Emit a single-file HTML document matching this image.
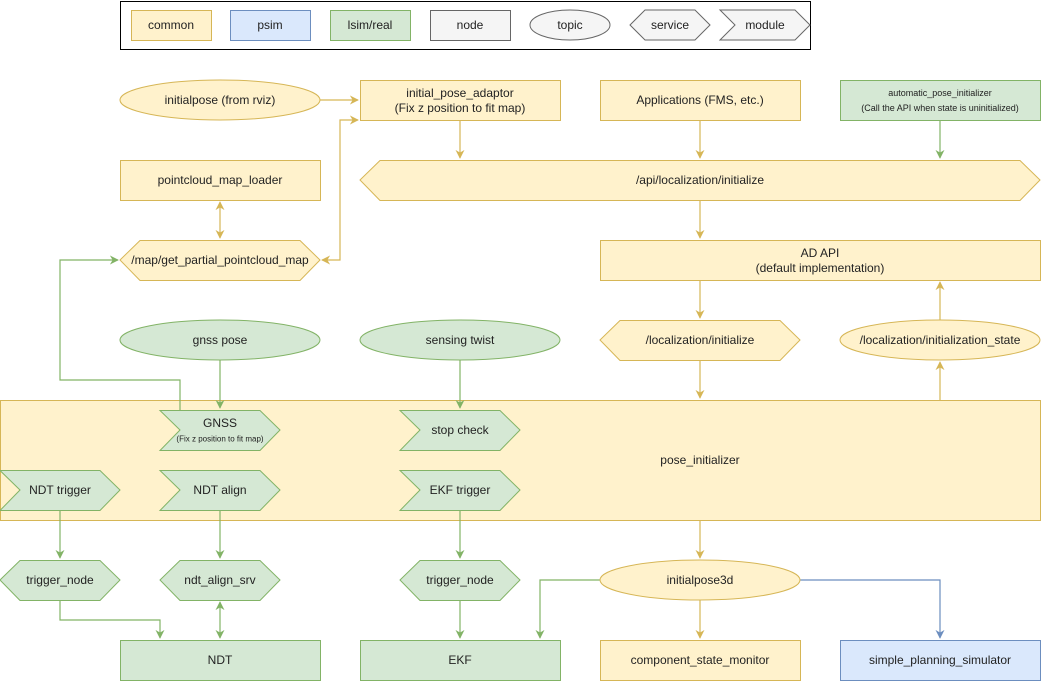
<!DOCTYPE html>
<html><head><meta charset="utf-8"><style>
html,body{margin:0;padding:0;background:#fff}
svg{display:block}
text{font-family:"Liberation Sans",Arial,sans-serif;font-size:12px;fill:#222;text-anchor:middle;dominant-baseline:central}
.y{fill:#fff2cc;stroke:#d6b656}
.g{fill:#d5e8d4;stroke:#82b366}
.b{fill:#dae8fc;stroke:#6c8ebf}
.n{fill:#f5f5f5;stroke:#666}
.ly{stroke:#d6b656;fill:none;stroke-width:1.2}
.lg{stroke:#82b366;fill:none;stroke-width:1.2}
.lb{stroke:#6c8ebf;fill:none;stroke-width:1.2}
</style></head><body>
<svg width="1042" height="681" viewBox="0 0 1042 681">
<defs>
<marker id="ay" viewBox="0 0 10 10" refX="9" refY="5" markerWidth="9" markerHeight="9" orient="auto-start-reverse" markerUnits="userSpaceOnUse"><path d="M0,0 L10,5 L0,10 L3,5z" fill="#d6b656"/></marker>
<marker id="ag" viewBox="0 0 10 10" refX="9" refY="5" markerWidth="9" markerHeight="9" orient="auto-start-reverse" markerUnits="userSpaceOnUse"><path d="M0,0 L10,5 L0,10 L3,5z" fill="#82b366"/></marker>
<marker id="ab" viewBox="0 0 10 10" refX="9" refY="5" markerWidth="9" markerHeight="9" orient="auto-start-reverse" markerUnits="userSpaceOnUse"><path d="M0,0 L10,5 L0,10 L3,5z" fill="#6c8ebf"/></marker>
</defs>
<!-- legend -->
<rect x="120.5" y="1.5" width="690" height="48" fill="#fff" stroke="#000"/>
<rect class="y" x="131.5" y="10.5" width="80" height="30"/><text x="171" y="25">common</text>
<rect class="b" x="230.5" y="10.5" width="80" height="30"/><text x="270" y="25">psim</text>
<rect class="g" x="330.5" y="10.5" width="80" height="30"/><text x="370" y="25">lsim/real</text>
<rect class="n" x="430.5" y="10.5" width="80" height="30"/><text x="470" y="25">node</text>
<ellipse class="n" cx="570" cy="25" rx="40" ry="15"/><text x="570" y="25">topic</text>
<polygon class="n" points="645,10 695,10 710,25 695,40 645,40 630,25"/><text x="670" y="25">service</text>
<polygon class="n" points="720,10 795,10 810,25 795,40 720,40 735,25"/><text x="765" y="25">module</text>

<!-- big pose_initializer -->
<rect class="y" x="0.5" y="400.5" width="1040" height="120"/><text x="700" y="460">pose_initializer</text>

<!-- connectors -->
<path class="ly" d="M320,100 H358" marker-end="url(#ay)"/>
<path class="ly" d="M322,260 H340 V120 H358" marker-start="url(#ay)" marker-end="url(#ay)"/>
<path class="ly" d="M460,120 V158" marker-end="url(#ay)"/>
<path class="ly" d="M700,120 V158" marker-end="url(#ay)"/>
<path class="lg" d="M940,120 V158" marker-end="url(#ag)"/>
<path class="ly" d="M220,202 V238" marker-start="url(#ay)" marker-end="url(#ay)"/>
<path class="ly" d="M700,200 V238" marker-end="url(#ay)"/>
<path class="ly" d="M700,280 V318" marker-end="url(#ay)"/>
<path class="ly" d="M700,360 V398" marker-end="url(#ay)"/>
<path class="ly" d="M940,400 V362" marker-end="url(#ay)"/>
<path class="ly" d="M940,320 V282" marker-end="url(#ay)"/>
<path class="lg" d="M180,410 V380 H60 V260 H118" marker-end="url(#ag)"/>
<path class="lg" d="M220,360 V408" marker-end="url(#ag)"/>
<path class="lg" d="M460,360 V408" marker-end="url(#ag)"/>
<path class="lg" d="M60,510 V558" marker-end="url(#ag)"/>
<path class="lg" d="M220,510 V558" marker-end="url(#ag)"/>
<path class="lg" d="M460,510 V558" marker-end="url(#ag)"/>
<path class="lg" d="M60,600 V620 H160 V638" marker-end="url(#ag)"/>
<path class="lg" d="M220,602 V638" marker-start="url(#ag)" marker-end="url(#ag)"/>
<path class="lg" d="M460,600 V638" marker-end="url(#ag)"/>
<path class="ly" d="M700,520 V558" marker-end="url(#ay)"/>
<path class="ly" d="M700,600 V638" marker-end="url(#ay)"/>
<path class="lg" d="M600,580 H540 V638" marker-end="url(#ag)"/>
<path class="lb" d="M800,580 H940 V638" marker-end="url(#ab)"/>

<!-- top row -->
<ellipse class="y" cx="220" cy="100" rx="100" ry="20"/><text x="220" y="100">initialpose (from rviz)</text>
<rect class="y" x="360.5" y="80.5" width="200" height="40"/><text x="460" y="93">initial_pose_adaptor</text><text x="460" y="108">(Fix z position to fit map)</text>
<rect class="y" x="600.5" y="80.5" width="200" height="40"/><text x="700" y="100">Applications (FMS, etc.)</text>
<rect class="g" x="840.5" y="80.5" width="200" height="40"/><text x="940" y="93" style="font-size:9px">automatic_pose_initializer</text><text x="940" y="108" style="font-size:9px">(Call the API when state is uninitialized)</text>
<rect class="y" x="120.5" y="160.5" width="200" height="40"/><text x="220" y="180">pointcloud_map_loader</text>
<polygon class="y" points="380,160.5 1020,160.5 1040,180 1020,200.5 380,200.5 360,180"/><text x="700" y="180">/api/localization/initialize</text>
<polygon class="y" points="140,240.5 300,240.5 320,260 300,280.5 140,280.5 120,260"/><text x="220" y="260">/map/get_partial_pointcloud_map</text>
<rect class="y" x="600.5" y="240.5" width="440" height="40"/><text x="820" y="253">AD API</text><text x="820" y="268">(default implementation)</text>
<ellipse class="g" cx="220" cy="340" rx="100" ry="20"/><text x="220" y="340">gnss pose</text>
<ellipse class="g" cx="460" cy="340" rx="100" ry="20"/><text x="460" y="340">sensing twist</text>
<polygon class="y" points="620,320.5 780,320.5 800,340 780,360.5 620,360.5 600,340"/><text x="700" y="340">/localization/initialize</text>
<ellipse class="y" cx="940" cy="340" rx="100" ry="20"/><text x="940" y="340">/localization/initialization_state</text>

<!-- modules -->
<polygon class="g" points="160,410.5 260,410.5 280,430 260,450.5 160,450.5 180,430"/><text x="220" y="423">GNSS</text><text x="220" y="439" style="font-size:8px">(Fix z position to fit map)</text>
<polygon class="g" points="400,410.5 500,410.5 520,430 500,450.5 400,450.5 420,430"/><text x="460" y="430">stop check</text>
<polygon class="g" points="0,470.5 100,470.5 120,490 100,510.5 0,510.5 20,490"/><text x="60" y="490">NDT trigger</text>
<polygon class="g" points="160,470.5 260,470.5 280,490 260,510.5 160,510.5 180,490"/><text x="220" y="490">NDT align</text>
<polygon class="g" points="400,470.5 500,470.5 520,490 500,510.5 400,510.5 420,490"/><text x="460" y="490">EKF trigger</text>

<!-- services bottom -->
<polygon class="g" points="20,560.5 100,560.5 120,580 100,600.5 20,600.5 0,580"/><text x="60" y="580">trigger_node</text>
<polygon class="g" points="180,560.5 260,560.5 280,580 260,600.5 180,600.5 160,580"/><text x="220" y="580">ndt_align_srv</text>
<polygon class="g" points="420,560.5 500,560.5 520,580 500,600.5 420,600.5 400,580"/><text x="460" y="580">trigger_node</text>
<ellipse class="y" cx="700" cy="580" rx="100" ry="20"/><text x="700" y="580">initialpose3d</text>

<rect class="g" x="120.5" y="640.5" width="200" height="40"/><text x="220" y="660">NDT</text>
<rect class="g" x="360.5" y="640.5" width="200" height="40"/><text x="460" y="660">EKF</text>
<rect class="y" x="600.5" y="640.5" width="200" height="40"/><text x="700" y="660">component_state_monitor</text>
<rect class="b" x="840.5" y="640.5" width="200" height="40"/><text x="940" y="660">simple_planning_simulator</text>
</svg>
</body></html>
